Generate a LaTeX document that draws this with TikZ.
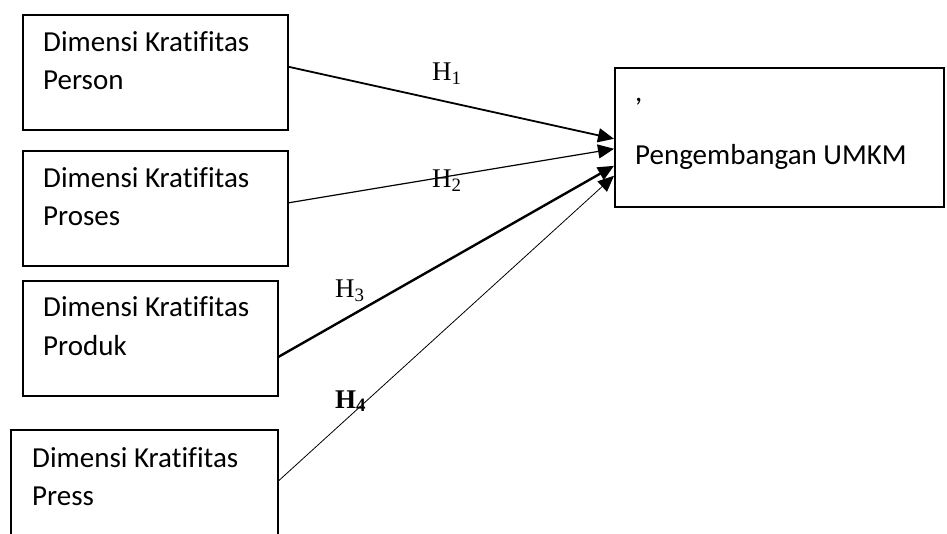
\documentclass[tikz,border=0pt]{standalone}
\usepackage{fontspec}
\setmainfont{Carlito}[Ligatures=CommonOff]
\newfontfamily\hserif{Liberation Serif}
\usetikzlibrary{arrows.meta}

\begin{document}
\begin{tikzpicture}[x=1pt, y=-1pt,
    kotak/.style={rectangle, draw, line width=1.6pt, anchor=north west, inner sep=0pt},
    teks/.style={anchor=base west, inner sep=0pt, align=left, font=\fontsize{29}{38}\selectfont},
    hlabel/.style={anchor=base west, inner sep=0pt, font=\hserif\fontsize{27}{30}\selectfont},
    panah/.style={-{Triangle[length=16pt, width=14pt]}}]
    \useasboundingbox (0,0) rectangle (947,534);
    \clip (0,0) rectangle (947,534);

    % Dimensi kreativitas
    \node[kotak, minimum width=265pt, minimum height=115pt] (person) at (22,14) {};
    \node[kotak, minimum width=265pt, minimum height=115pt] (proses) at (22,150) {};
    \node[kotak, minimum width=255pt, minimum height=115pt] (produk) at (22,280) {};
    \node[kotak, minimum width=267pt, minimum height=125pt] (press) at (10,429) {};

    \node[teks] (tperson) at (43,90) {Dimensi Kratifitas\\Person};
    \node[teks] (tproses) at (43,226) {Dimensi Kratifitas\\Proses};
    \node[teks] (tproduk) at (43,355) {Dimensi Kratifitas\\Produk};
    \node[teks] (tpress) at (32,505) {Dimensi Kratifitas\\Press};

    % Variabel terikat
    \node[kotak, minimum width=329pt, minimum height=139pt] (umkm) at (614,67) {};
    \node[teks] (tumkm) at (635,165) {,\\[25pt]Pengembangan UMKM};

    % Hipotesis
    \draw[panah, line width=1.8pt] ([yshift=5.5pt]person.east) -- ([yshift=-1.5pt]umkm.west);
    \draw[panah, line width=1.2pt] ([yshift=5.5pt]proses.east) -- ([yshift=-11.5pt]umkm.west);
    \draw[panah, line width=2.4pt] ([yshift=-18.5pt]produk.east) -- ([yshift=-28.5pt]umkm.west);
    \draw[panah, line width=0.8pt] ([yshift=11.5pt]press.east) -- ([yshift=-38.5pt]umkm.west);

    \node[hlabel] (h1) at (432,81) {H\textsubscript{1}};
    \node[hlabel] (h2) at (432,188) {H\textsubscript{2}};
    \node[hlabel] (h3) at (335,298) {H\textsubscript{3}};
    \node[hlabel, font=\hserif\bfseries\fontsize{27}{30}\selectfont] (h4) at (335,408) {H\textsubscript{4}};
\end{tikzpicture}
\end{document}
